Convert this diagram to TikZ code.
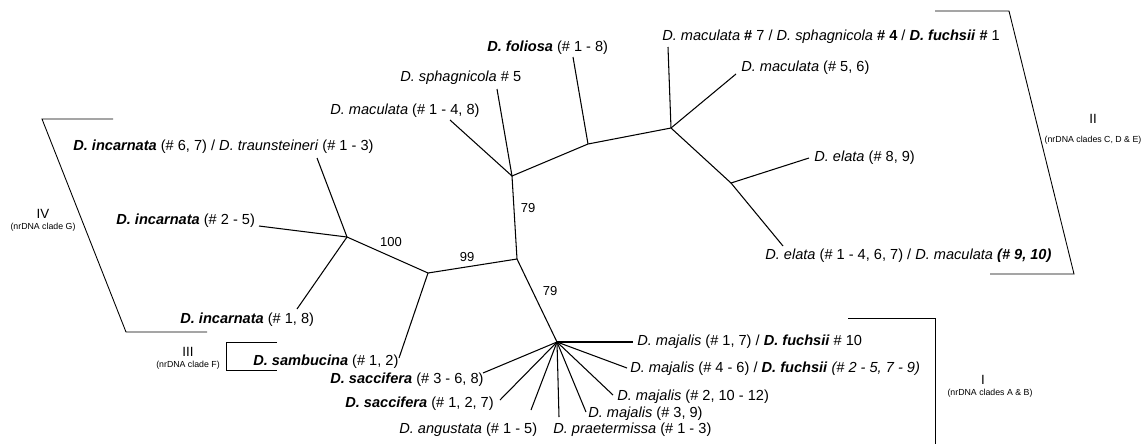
\documentclass[tikz,border=0pt]{standalone}
\usepackage{fontspec}
\setmainfont{Liberation Sans}
\newcommand{\taxb}[1]{\textbf{\textit{D. #1}}}
\newcommand{\taxi}[1]{\textit{D. #1}}
\begin{document}
\begin{tikzpicture}[x=0.02cm, y=-0.02cm,
    every node/.style={font=\fontsize{8.3}{10}\selectfont, inner sep=0pt},
    branch/.style={line width=0.6pt},
    bracket/.style={line width=0.5pt},
    leaf/.style={anchor=west},
    boot/.style={font=\fontsize{7.4}{9}\selectfont},
    clade/.style={font=\fontsize{7.6}{9}\selectfont},
    cladesub/.style={font=\fontsize{5}{6}\selectfont}]
    \useasboundingbox (0,0) rectangle (1146,444);
    % internal branch points
    \coordinate (inc) at (347,237);
    \coordinate (join) at (428,273);
    \coordinate (mid) at (517,259);
    \coordinate (mac) at (512,176);
    \coordinate (fol) at (588,144);
    \coordinate (fuc) at (671,128);
    \coordinate (ela) at (731,183);
    \coordinate (maj) at (557,342);
    % leaf labels
    \node[leaf] (inc67) at (73,147) {\taxb{incarnata} (\# 6, 7) / \taxi{traunsteineri} (\# 1 - 3)};
    \node[leaf] (inc25) at (116,221) {\taxb{incarnata} (\# 2 - 5)};
    \node[leaf] (inc18) at (180,320) {\taxb{incarnata} (\# 1, 8)};
    \node[leaf] (samb) at (253,362) {\taxb{sambucina} (\# 1, 2)};
    \node[leaf] (sac36) at (330,380) {\taxb{saccifera} (\# 3 - 6, 8)};
    \node[leaf] (sac127) at (345,404) {\taxb{saccifera} (\# 1, 2, 7)};
    \node[leaf] (ang) at (399,430) {\taxi{angustata} (\# 1 - 5)};
    \node[leaf] (prae) at (553,430) {\taxi{praetermissa} (\# 1 - 3)};
    \node[leaf] (maj39) at (588,414) {\taxi{majalis} (\# 3, 9)};
    \node[leaf] (maj2) at (617,397) {\taxi{majalis} (\# 2, 10 - 12)};
    \node[leaf] (maj46) at (630,369) {\taxi{majalis} (\# 4 - 6) / \taxb{fuchsii} \textit{(\# 2 - 5, 7 - 9)}};
    \node[leaf] (maj17) at (637,342) {\taxi{majalis} (\# 1, 7) / \taxb{fuchsii} \# 10};
    \node[leaf] (ela1) at (765,256) {\taxi{elata} (\# 1 - 4, 6, 7) / \taxi{maculata} \textbf{\textit{(\# 9, 10)}}};
    \node[leaf] (ela89) at (814,158) {\taxi{elata} (\# 8, 9)};
    \node[leaf] (mac56) at (741,68) {\taxi{maculata} (\# 5, 6)};
    \node[leaf] (mac7) at (662,37) {\taxi{maculata} \textbf{\#} 7 / \taxi{sphagnicola} \textbf{\# 4} / \taxb{fuchsii} \textbf{\#} 1};
    \node[leaf] (folio) at (487,48) {\taxb{foliosa} (\# 1 - 8)};
    \node[leaf] (sph5) at (400,78) {\taxi{sphagnicola} \# 5};
    \node[leaf] (mac14) at (330,111) {\taxi{maculata} (\# 1 - 4, 8)};
    % leaf tips
    \coordinate (inc67tip) at (317,158);
    \coordinate (inc25tip) at (259,226);
    \coordinate (inc18tip) at (297,309);
    \coordinate (sambtip) at (399,358);
    \coordinate (sac36tip) at (483,373);
    \coordinate (sac127tip) at (500,400);
    \coordinate (angtip) at (531,410);
    \coordinate (praetip) at (559,417);
    \coordinate (maj39tip) at (586,412);
    \coordinate (maj2tip) at (613,395);
    \coordinate (maj46tip) at (627,368);
    \coordinate (maj17tip) at (633,342);
    \coordinate (ela1tip) at (783,246);
    \coordinate (ela89tip) at (809,158);
    \coordinate (mac56tip) at (736,74);
    \coordinate (mac7tip) at (668,47);
    \coordinate (foltip) at (573,57);
    \coordinate (sph5tip) at (497,89);
    \coordinate (mac14tip) at (450,120);
    % inner branches
    \draw[branch] (inc) -- (join) -- (mid) -- (mac) -- (fol) -- (fuc) -- (ela);
    \draw[branch] (mid) -- (maj);
    % terminal branches
    \foreach \t in {inc67tip, inc25tip, inc18tip} \draw[branch] (inc) -- (\t);
    \draw[branch] (join) -- (sambtip);
    \foreach \t in {sac36tip, sac127tip, angtip, praetip, maj39tip, maj2tip, maj46tip, maj17tip} \draw[branch] (maj) -- (\t);
    \foreach \t in {mac14tip, sph5tip} \draw[branch] (mac) -- (\t);
    \draw[branch] (fol) -- (foltip);
    \foreach \t in {mac7tip, mac56tip} \draw[branch] (fuc) -- (\t);
    \foreach \t in {ela89tip, ela1tip} \draw[branch] (ela) -- (\t);
    % bootstrap values
    \node[boot] (bs100) at (391,242) {100};
    \node[boot] (bs99) at (467,257) {99};
    \node[boot] (bs79a) at (528,208) {79};
    \node[boot] (bs79b) at (550,291) {79};
    % clade brackets
    \draw[bracket] (935,11) -- (1009,11) -- (1074,274) -- (990,274);
    \node[clade] (cII) at (1093,119) {II};
    \node[cladesub] (cIIsub) at (1093,140) {(nrDNA clades C, D \& E)};
    \draw[bracket] (113,119) -- (42,119) -- (126,332) -- (207,332);
    \node[clade] (cIV) at (43,214) {IV};
    \node[cladesub] (cIVsub) at (43,227) {(nrDNA clade G)};
    \draw[bracket] (277,342) -- (226,342) -- (226,370) -- (277,370);
    \node[clade] (cIII) at (188,352) {III};
    \node[cladesub] (cIIIsub) at (188,365) {(nrDNA clade F)};
    \draw[bracket] (848,318) -- (935,318) -- (935,444);
    \node[clade] (cI) at (983,380) {I};
    \node[cladesub] (cIsub) at (990,393) {(nrDNA clades A \& B)};
\end{tikzpicture}
\end{document}
